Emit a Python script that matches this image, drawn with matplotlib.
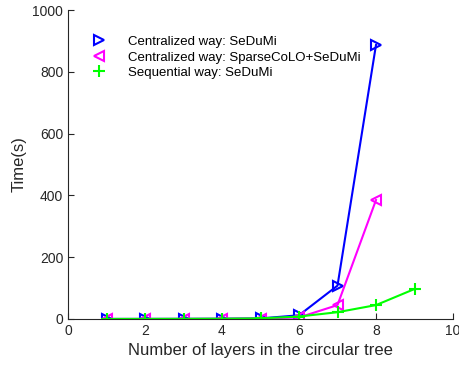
import matplotlib
matplotlib.use("Agg")
import matplotlib.pyplot as plt

plt.rcParams['font.family'] = ['Liberation Sans', 'DejaVu Sans']

layers_c = [1, 2, 3, 4, 5, 6, 7, 8]
layers_s = [1, 2, 3, 4, 5, 6, 7, 8, 9]
central_sedumi = [0.1, 0.2, 0.4, 0.8, 2, 12, 108, 887]
central_sparse = [0.1, 0.2, 0.3, 0.6, 1.5, 5, 45, 385]
sequential = [0.2, 0.4, 0.6, 1, 2, 8, 22, 45, 97]

fig = plt.figure(figsize=(4.6, 3.7), dpi=100)
ax = fig.add_axes([68/460, 1-319/370, 385/460, 309/370])

ax.plot(layers_c, central_sedumi, color='#0000ff', marker='>', mfc='none',
        ms=7, mew=1.5, lw=1.5, label='Centralized way: SeDuMi')
ax.plot(layers_c, central_sparse, color='#ff00ff', marker='<', mfc='none',
        ms=7, mew=1.5, lw=1.5, label='Centralized way: SparseCoLO+SeDuMi')
ax.plot(layers_s, sequential, color='#00ff00', marker='+',
        ms=9, mew=1.5, lw=1.5, label='Sequential way: SeDuMi')

ax.set_xlim(0, 10)
ax.set_ylim(0, 1000)
ax.set_xticks(range(0, 11, 2))
ax.set_yticks(range(0, 1001, 200))
ax.spines['top'].set_visible(False)
ax.spines['right'].set_visible(False)
for s in ['left', 'bottom']:
    ax.spines[s].set_color('#262626')
    ax.spines[s].set_linewidth(0.8)
ax.tick_params(direction='in', length=4, labelsize=10, colors='#262626')
ax.set_xlabel('Number of layers in the circular tree', fontsize=12, color='#262626')
ax.set_ylabel('Time(s)', fontsize=12, color='#262626')

leg = ax.legend(loc='upper left', bbox_to_anchor=(0.025, 0.955), frameon=False,
                fontsize=9.5, handlelength=1.5, handletextpad=1.4,
                labelspacing=0.25)
for h in leg.get_lines():
    h.set_linestyle('none')

fig.savefig('out.png', dpi=100)
